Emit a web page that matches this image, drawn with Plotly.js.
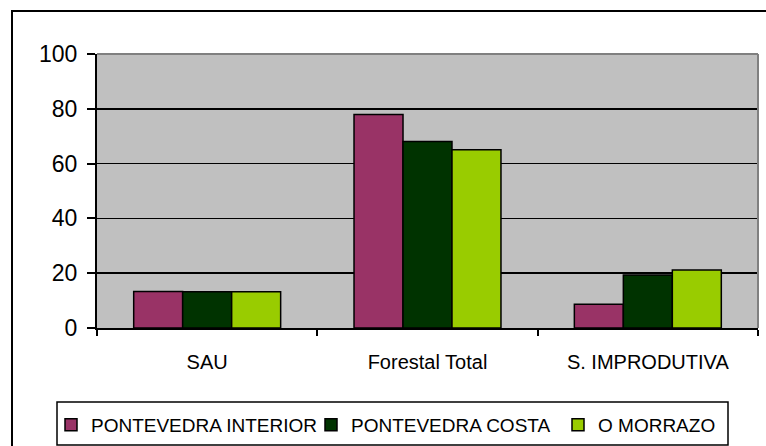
<!DOCTYPE html>
<html>
<head>
<meta charset="utf-8">
<script src="https://cdn.plot.ly/plotly-3.0.1.min.js"></script>
<style>html,body{margin:0;padding:0;background:#fff;}#chart{width:766px;height:446px;}</style>
</head>
<body>
<div id="chart"></div>
<script>
const categories = ["SAU", "Forestal Total", "S. IMPRODUTIVA"];
const seriesNames = ["PONTEVEDRA INTERIOR", "PONTEVEDRA COSTA", "O MORRAZO"];
const pontevedraInterior = [13.3, 77.9, 8.7];
const pontevedraCosta = [13.2, 68.1, 19.3];
const oMorrazo = [13.2, 65.1, 21.2];
const seriesColors = ["#993366", "#003300", "#99CC00"];
const yTickVals = [0, 20, 40, 60, 80, 100];

const W = 766, H = 446;
const M = {l: 97, r: 8, t: 54, b: 118, autoexpand: false};
const pw = W - M.l - M.r, ph = H - M.t - M.b;
const px = x => (x - M.l) / pw;
const py = y => (H - M.b - y) / ph;

const font = "Liberation Sans, Arial, sans-serif";
const values = [pontevedraInterior, pontevedraCosta, oMorrazo];
const legendIds = ["legend", "legend2", "legend3"];
const legendLeft = [51, 311, 558];

const traces = values.map((v, i) => ({
  type: "bar",
  name: seriesNames[i],
  x: categories,
  y: v,
  legend: legendIds[i],
  marker: {color: seriesColors[i], line: {color: "#000", width: 1.5}},
  hoverinfo: "skip"
}));

const layout = {
  width: W, height: H,
  margin: M,
  paper_bgcolor: "#fff",
  plot_bgcolor: "#C0C0C0",
  barmode: "group",
  bargap: 0.333,
  bargroupgap: 0,
  showlegend: true,
  font: {family: font, color: "#000"},
  xaxis: {
    type: "category",
    tickson: "boundaries",
    ticks: "outside", ticklen: 6, tickwidth: 2, tickcolor: "#000",
    showline: true, linecolor: "#000", linewidth: 2,
    showgrid: false,
    tickfont: {family: font, size: 20, color: "#000"},
    ticklabelstandoff: 15,
    automargin: false,
    fixedrange: true
  },
  yaxis: {
    range: [0, 100],
    tickvals: yTickVals,
    ticks: "outside", ticklen: 8, tickwidth: 2, tickcolor: "#000",
    showline: true, linecolor: "#000", linewidth: 2,
    showgrid: true, gridcolor: "#000", gridwidth: 1.5,
    zeroline: false,
    tickfont: {family: font, size: 23, color: "#000"},
    ticklabelstandoff: 5,
    automargin: false,
    fixedrange: true
  },
  shapes: [
    {type: "rect", xref: "paper", yref: "paper", x0: px(12), x1: px(790), y0: py(470), y1: py(11),
     line: {color: "#000", width: 2}, fillcolor: "rgba(0,0,0,0)", layer: "below"},
    {type: "rect", xref: "paper", yref: "paper", x0: px(57), x1: px(728), y0: py(445), y1: py(402),
     line: {color: "#000", width: 1.5}, fillcolor: "#fff", layer: "below"},
    {type: "line", xref: "paper", yref: "paper", x0: 0, x1: 1, y0: 1, y1: 1,
     line: {color: "#808080", width: 2}, layer: "above"},
    {type: "line", xref: "paper", yref: "paper", x0: 1, x1: 1, y0: 0, y1: 1,
     line: {color: "#808080", width: 2}, layer: "above"}
  ]
};

legendIds.forEach((id, i) => {
  layout[id] = {
    orientation: "h",
    xref: "container", yref: "container",
    x: legendLeft[i] / W, xanchor: "left",
    y: 1 - 425 / H, yanchor: "middle",
    bgcolor: "rgba(0,0,0,0)",
    borderwidth: 0,
    font: {family: font, size: 19, color: "#000"}
  };
});

Plotly.newPlot("chart", traces, layout, {displayModeBar: false, staticPlot: true});
</script>
</body>
</html>
